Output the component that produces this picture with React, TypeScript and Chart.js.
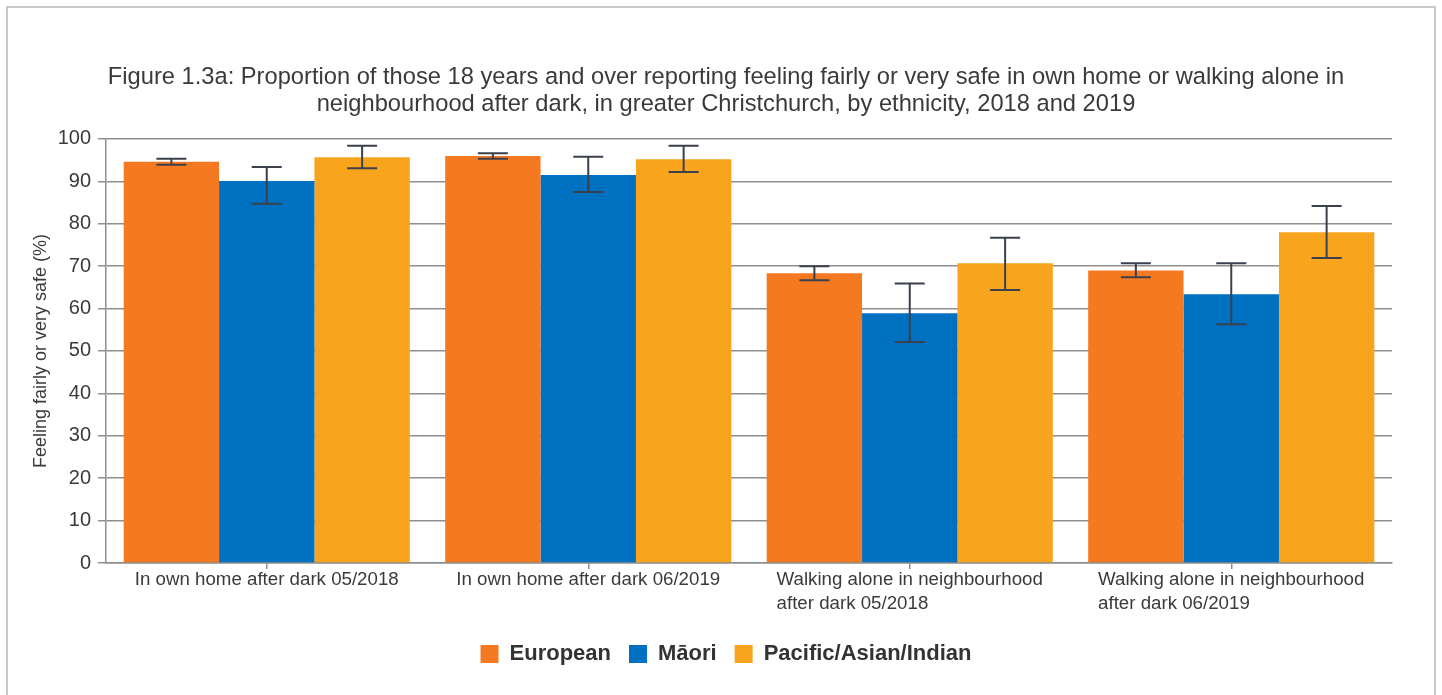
import React, { useEffect, useRef } from "react";
import { Chart, registerables } from "chart.js";

Chart.register(...registerables);

const titleLines = [
  "Figure 1.3a: Proportion of those 18 years and over reporting feeling fairly or very safe in own home or walking alone in",
  "neighbourhood after dark, in greater Christchurch, by ethnicity, 2018 and 2019",
];
const yAxisTitle = "Feeling fairly or very safe (%)";

const categories: string[][] = [
  ["In own home after dark 05/2018"],
  ["In own home after dark 06/2019"],
  ["Walking alone in neighbourhood", "after dark 05/2018"],
  ["Walking alone in neighbourhood", "after dark 06/2019"],
];

const seriesNames = ["European", "Māori", "Pacific/Asian/Indian"];
const seriesColors = ["#F47920", "#0070C0", "#F8A41C"];

const europeanValues = [94.6, 96.0, 68.3, 69.0];
const europeanLow = [93.9, 95.3, 66.7, 67.4];
const europeanHigh = [95.3, 96.6, 70.0, 70.7];

const maoriValues = [90.1, 91.5, 58.9, 63.4];
const maoriLow = [84.7, 87.5, 52.1, 56.3];
const maoriHigh = [93.4, 95.8, 65.9, 70.7];

const pacificValues = [95.7, 95.2, 70.7, 78.0];
const pacificLow = [93.1, 92.2, 64.4, 71.9];
const pacificHigh = [98.4, 98.4, 76.7, 84.2];

const yMin = 0;
const yMax = 100;
const yStep = 10;

const FONT = "'Liberation Sans', Arial, sans-serif";
const TEXT = "#3a3a3a";
const GRID = "#8e8e8e";

const errorBarPlugin = {
  id: "errorBars",
  afterDatasetsDraw(chart: any) {
    const ctx = chart.ctx;
    const ys = chart.scales.y;
    chart.data.datasets.forEach((ds: any, i: number) => {
      const meta = chart.getDatasetMeta(i);
      meta.data.forEach((el: any, j: number) => {
        const x = el.x;
        const yl = ys.getPixelForValue(ds.errLow[j]);
        const yh = ys.getPixelForValue(ds.errHigh[j]);
        ctx.save();
        ctx.strokeStyle = "#3b414c";
        ctx.lineWidth = 2;
        ctx.beginPath();
        ctx.moveTo(x, yh);
        ctx.lineTo(x, yl);
        ctx.moveTo(x - 15, yh);
        ctx.lineTo(x + 15, yh);
        ctx.moveTo(x - 15, yl);
        ctx.lineTo(x + 15, yl);
        ctx.stroke();
        ctx.restore();
      });
    });
  },
};

const xLabelPlugin = {
  id: "xLabels",
  afterDraw(chart: any) {
    const sc = chart.scales.x;
    const ctx = chart.ctx;
    ctx.save();
    ctx.font = `18.7px ${FONT}`;
    ctx.fillStyle = TEXT;
    ctx.textAlign = "left";
    ctx.textBaseline = "middle";
    categories.forEach((lines, i) => {
      const cx = sc.getPixelForTick(i);
      const w = Math.max(...lines.map((l) => ctx.measureText(l).width));
      lines.forEach((l, k) => {
        ctx.fillText(l, cx - w / 2, sc.top + 16.5 + k * 24);
      });
    });
    ctx.restore();
  },
};

export default function App() {
  const ref = useRef<HTMLCanvasElement | null>(null);

  useEffect(() => {
    if (!ref.current) return;
    const chart = new Chart(ref.current, {
      type: "bar",
      data: {
        labels: categories,
        datasets: [
          { label: seriesNames[0], data: europeanValues, backgroundColor: seriesColors[0], errLow: europeanLow, errHigh: europeanHigh } as any,
          { label: seriesNames[1], data: maoriValues, backgroundColor: seriesColors[1], errLow: maoriLow, errHigh: maoriHigh } as any,
          { label: seriesNames[2], data: pacificValues, backgroundColor: seriesColors[2], errLow: pacificLow, errHigh: pacificHigh } as any,
        ],
      },
      options: {
        responsive: false,
        animation: false,
        layout: { padding: { left: 20, right: 10, top: 0, bottom: 20 } },
        datasets: { bar: { categoryPercentage: 0.89, barPercentage: 1.0 } },
        plugins: {
          title: {
            display: true,
            text: titleLines,
            color: TEXT,
            font: { family: FONT, size: 23.7, weight: "normal", lineHeight: 1.18 },
            padding: { top: 63, bottom: 20 },
          },
          legend: {
            position: "bottom",
            labels: {
              boxWidth: 18,
              boxHeight: 18,
              padding: 18,
              color: "#333",
              font: { family: FONT, size: 22, weight: "bold" },
            },
          },
          tooltip: { enabled: false },
        },
        scales: {
          x: {
            grid: { display: true, drawOnChartArea: false, drawTicks: true, tickLength: 6, offset: false, color: GRID, lineWidth: 1.5 },
            border: { display: true, color: GRID, width: 1.5 },
            ticks: { color: "rgba(0,0,0,0)", maxRotation: 0, autoSkip: false, font: { family: FONT, size: 18 } },
            afterFit: (s: any) => {
              s.height = 62;
            },
          },
          y: {
            min: yMin,
            max: yMax,
            grid: { color: GRID, lineWidth: 1.5, tickLength: 8 },
            border: { display: true, color: GRID, width: 1.5 },
            ticks: { stepSize: yStep, color: TEXT, padding: 7, font: { family: FONT, size: 20 } },
            title: {
              display: true,
              text: yAxisTitle,
              color: TEXT,
              font: { family: FONT, size: 18 },
              padding: { top: 10, bottom: 4 },
            },
            afterFit: (s: any) => {
              s.width = 86;
            },
          },
          yR: {
            type: "linear",
            position: "right",
            display: true,
            grid: { display: false, drawTicks: false },
            border: { display: false },
            ticks: { display: false },
            afterFit: (s: any) => {
              s.width = 40;
            },
          },
        },
      } as any,
      plugins: [errorBarPlugin, xLabelPlugin],
    });
    return () => chart.destroy();
  }, []);

  return (
    <>
      <div
        style={{
          position: "fixed",
          left: 6,
          top: 6,
          width: 1430,
          height: 760,
          border: "2px solid #c8c8c8",
          boxSizing: "border-box",
          background: "#fff",
        }}
      />
      <div style={{ position: "fixed", left: 0, top: 0, width: 1442, height: 695 }}>
        <canvas ref={ref} width={1442} height={695} style={{ width: 1442, height: 695, display: "block" }} />
      </div>
    </>
  );
}
